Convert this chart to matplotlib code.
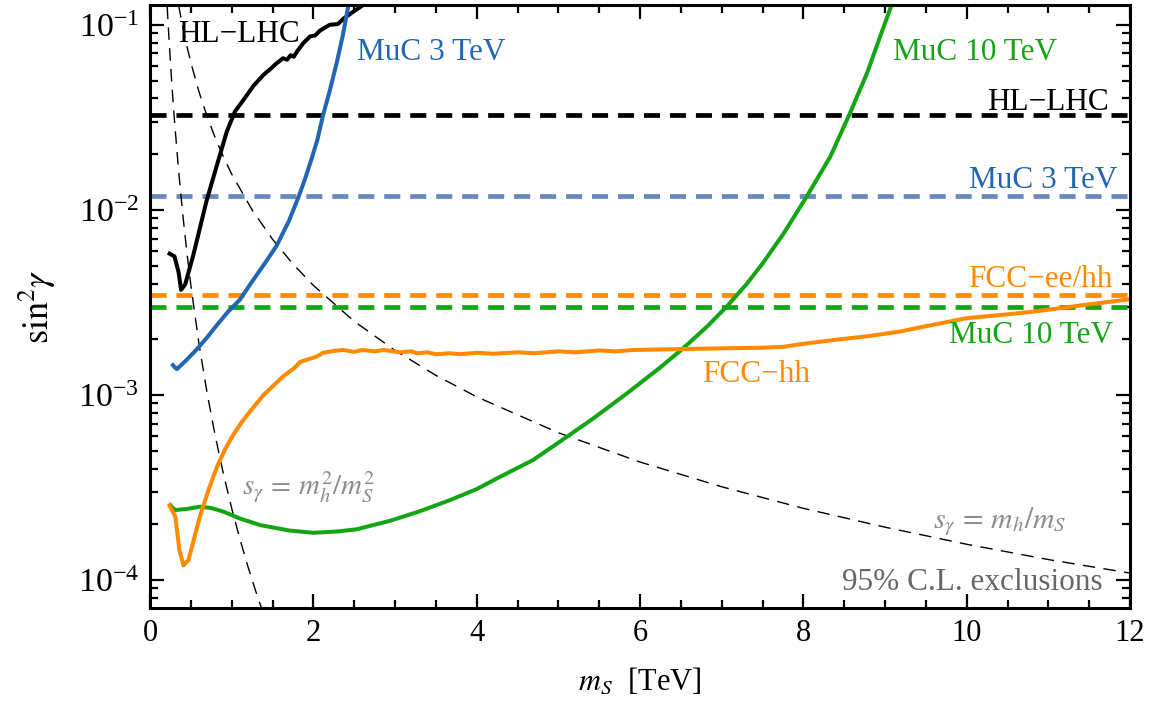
import matplotlib
matplotlib.use("Agg")
import matplotlib.pyplot as plt
import matplotlib.ticker as ticker

plt.rcParams.update({
    "font.family": "Liberation Serif",
    "mathtext.fontset": "stix",
    "font.size": 22,
})

# horizontal projections (dashed)
H_HLLHC = 0.0327
H_MUC3 = 0.0119
H_FCCEE = 0.00347
H_MUC10 = 0.0030

# HL-LHC direct search (black)
hl_x = [0.24, 0.30, 0.35, 0.38, 0.43, 0.53, 0.69, 0.82, 0.94, 1.04, 1.16, 1.27, 1.39,
        1.47, 1.55, 1.63, 1.68, 1.72, 1.76, 1.80, 1.88, 1.96, 2.02, 2.08, 2.20, 2.30,
        2.37, 2.48, 2.61, 2.70]
hl_y = [5.8e-3, 5.6e-3, 4.6e-3, 3.7e-3, 3.95e-3, 5.7e-3, 0.0111, 0.0175, 0.0265, 0.034,
        0.0402, 0.047, 0.0537, 0.0575, 0.062, 0.066, 0.0648, 0.0685, 0.0672, 0.0718,
        0.080, 0.0865, 0.0875, 0.093, 0.100, 0.101, 0.108, 0.117, 0.128, 0.14]

# MuC 3 TeV (blue)
mu3_x = [0.28, 0.31, 0.33, 0.45, 0.57, 0.70, 0.82, 0.95, 1.10, 1.25, 1.40, 1.55, 1.70,
         1.82, 1.90, 1.98, 2.05, 2.12, 2.20, 2.29, 2.36, 2.43, 2.47]
mu3_y = [1.45e-3, 1.40e-3, 1.38e-3, 1.55e-3, 1.76e-3, 2.05e-3, 2.39e-3, 2.8e-3, 3.27e-3,
         4.1e-3, 5.1e-3, 6.4e-3, 8.7e-3, 0.0118, 0.0148, 0.019, 0.024, 0.0327, 0.0439,
         0.0634, 0.0875, 0.128, 0.16]

# MuC 10 TeV (green)
mu10_x = [0.25, 0.28, 0.31, 0.45, 0.61, 0.75, 0.90, 1.10, 1.35, 1.71, 2.00, 2.30, 2.53,
          2.94, 3.30, 3.67, 4.00, 4.29, 4.69, 5.02, 5.43, 5.84, 6.24, 6.53, 6.82, 7.06,
          7.31, 7.51, 7.76, 8.04, 8.33, 8.57, 8.78, 8.94, 9.08, 9.15]
mu10_y = [2.54e-4, 2.45e-4, 2.39e-4, 2.42e-4, 2.49e-4, 2.45e-4, 2.34e-4, 2.15e-4, 1.98e-4,
          1.85e-4, 1.80e-4, 1.83e-4, 1.88e-4, 2.09e-4, 2.35e-4, 2.70e-4, 3.1e-4, 3.62e-4,
          4.45e-4, 5.6e-4, 7.48e-4, 1.02e-3, 1.40e-3, 1.79e-3, 2.34e-3, 3.0e-3, 4.0e-3,
          5.2e-3, 7.48e-3, 0.0118, 0.0194, 0.0333, 0.0549, 0.0865, 0.128, 0.15]

# FCC-hh (orange)
fcc_x = [0.24, 0.31, 0.36, 0.41, 0.47, 0.61, 0.72, 0.82, 0.92, 1.02, 1.12, 1.22, 1.39,
         1.63, 1.76, 1.84, 2.04, 2.12, 2.25, 2.37, 2.5, 2.6, 2.75, 2.86, 3.06, 3.2, 3.27,
         3.4, 3.5, 3.67, 3.8, 4.0, 4.2, 4.5, 4.7, 5.0, 5.2, 5.5, 5.7, 5.92, 6.5, 7.14,
         7.5, 7.76, 7.96, 8.37, 8.8, 9.18, 9.6, 10.0, 10.4, 10.82, 11.43, 12.0]
fcc_y = [2.52e-4, 2.2e-4, 1.45e-4, 1.2e-4, 1.28e-4, 2.2e-4, 3.1e-4, 4.09e-4, 5.1e-4,
         6.1e-4, 7.1e-4, 8.1e-4, 1.0e-3, 1.26e-3, 1.39e-3, 1.51e-3, 1.61e-3, 1.69e-3,
         1.73e-3, 1.75e-3, 1.71e-3, 1.75e-3, 1.72e-3, 1.75e-3, 1.70e-3, 1.72e-3, 1.68e-3,
         1.70e-3, 1.66e-3, 1.68e-3, 1.66e-3, 1.69e-3, 1.67e-3, 1.70e-3, 1.68e-3, 1.72e-3,
         1.70e-3, 1.74e-3, 1.72e-3, 1.75e-3, 1.77e-3, 1.79e-3, 1.80e-3, 1.82e-3, 1.88e-3,
         1.98e-3, 2.08e-3, 2.2e-3, 2.4e-3, 2.6e-3, 2.7e-3, 2.82e-3, 3.06e-3, 3.29e-3]

# theory guide lines: s_gamma = m_h/m_S  (sin^2 = (m_h/m_S)^2)
lin_x = [0.35, 0.40, 0.45, 0.50, 0.60, 0.70, 0.80, 0.90, 1.00, 1.25, 1.50, 1.75, 2.0,
         2.5, 3.0, 3.5, 4.0, 5.0, 6.0, 7.0, 8.0, 9.0, 10.0, 11.0, 12.0]
lin_y = [0.1276, 0.0977, 0.0772, 0.0625, 0.0434, 0.0319, 0.0244, 0.0193, 0.0156, 0.0100,
         0.00694, 0.0051, 0.00391, 0.0025, 0.00174, 0.001276, 0.000977, 0.000625,
         0.000434, 0.000319, 0.000244, 0.000193, 0.000156, 0.000129, 0.000109]
# s_gamma = m_h^2/m_S^2  (sin^2 = (m_h/m_S)^4)
quad_x = [0.21, 0.225, 0.25, 0.275, 0.30, 0.35, 0.40, 0.45, 0.50, 0.60, 0.70, 0.80, 0.90,
          1.00, 1.10, 1.20, 1.30, 1.40]
quad_y = [0.1255, 0.0953, 0.0625, 0.0427, 0.0301, 0.01627, 0.00954, 0.00595, 0.00391,
          0.00188, 0.001017, 0.000596, 0.000372, 0.000244, 0.0001667, 0.0001177,
          8.55e-5, 6.36e-5]

BLACK = "#000000"
BLUE = "#2166b3"
BLUE_D = "#6689bd"
ORANGE = "#ff8a00"
GREEN = "#14a514"

fig = plt.figure(figsize=(11.73, 7.02), dpi=100)
ax = fig.add_axes([0.1279, 0.1339, 0.8355, 0.8590])

dash_kw = dict(lw=3.4, dashes=(3.4, 2.1))
ax.axhline(H_HLLHC, color=BLACK, **dash_kw)
ax.axhline(H_MUC3, color=BLUE_D, **dash_kw)
ax.axhline(H_FCCEE, color=ORANGE, **dash_kw)
ax.axhline(H_MUC10, color=GREEN, **dash_kw)

ax.plot(lin_x, lin_y, color="black", lw=1.0, dashes=(9, 6))
ax.plot(quad_x, quad_y, color="black", lw=1.0, dashes=(9, 6))

ax.plot(hl_x, hl_y, color=BLACK, lw=2.9, solid_joinstyle="round")
ax.plot(mu3_x, mu3_y, color=BLUE, lw=2.9)
ax.plot(mu10_x, mu10_y, color=GREEN, lw=2.9)
ax.plot(fcc_x, fcc_y, color=ORANGE, lw=2.9, solid_joinstyle="round")

ax.set_yscale("log")
ax.set_xlim(0, 12)
ax.set_ylim(7.06e-5, 0.128)

ax.xaxis.set_major_locator(ticker.MultipleLocator(2))
ax.xaxis.set_minor_locator(ticker.MultipleLocator(0.5))
ax.yaxis.set_major_locator(ticker.LogLocator(base=10))
ax.yaxis.set_minor_locator(ticker.LogLocator(base=10, subs=range(2, 10)))
ax.yaxis.set_minor_formatter(ticker.NullFormatter())
ax.yaxis.set_major_formatter(ticker.LogFormatterMathtext())

ax.tick_params(which="both", direction="in", top=True, right=True, width=1.6, pad=8)
ax.tick_params(axis="x", labelsize=22)
ax.tick_params(axis="y", labelsize=24.5)
ax.tick_params(which="major", length=10)
ax.tick_params(which="minor", length=6)
for sp in ax.spines.values():
    sp.set_linewidth(2.2)

ax.set_xlabel(r"$m_S$  [TeV]", fontsize=22, labelpad=13)
ax.set_ylabel(r"$\mathrm{sin}^2\gamma$", fontsize=26, labelpad=14)

fs = 22.5
ax.text(0.343, 0.0809, "HL\u2212LHC", color=BLACK, fontsize=fs, va="baseline")
ax.text(2.535, 0.0647, "MuC 3 TeV", color=BLUE, fontsize=fs, va="baseline")
ax.text(9.10, 0.0647, "MuC 10 TeV", color=GREEN, fontsize=fs, va="baseline")
ax.text(11.74, 0.0347, "HL\u2212LHC", color=BLACK, fontsize=fs, va="baseline", ha="right")
ax.text(11.84, 0.01315, "MuC 3 TeV", color=BLUE, fontsize=fs, va="baseline", ha="right")
ax.text(11.78, 0.00384, "FCC\u2212ee/hh", color=ORANGE, fontsize=fs, va="baseline", ha="right")
ax.text(11.79, 0.00191, "MuC 10 TeV", color=GREEN, fontsize=fs, va="baseline", ha="right")
ax.text(6.76, 0.001175, "FCC\u2212hh", color=ORANGE, fontsize=fs, va="baseline")
ax.text(1.127, 2.88e-4, r"$s_\gamma\, =\, m_h^2/m_S^2$", color="#8c8c8c", fontsize=21,
        va="baseline")
ax.text(9.59, 1.91e-4, r"$s_\gamma\, =\, m_h/m_S$", color="#8c8c8c", fontsize=21.5,
        va="baseline")
ax.text(11.67, 8.83e-5, "95% C.L. exclusions", color="#666666", fontsize=fs,
        va="baseline", ha="right")

fig.savefig("out.png", dpi=100)
